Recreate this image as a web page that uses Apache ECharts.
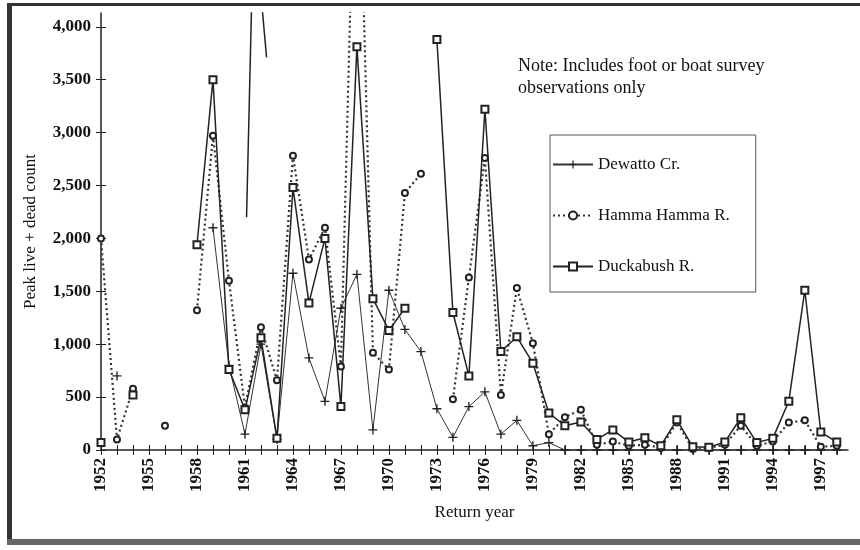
<!DOCTYPE html>
<html>
<head>
<meta charset="utf-8">
<script src="https://cdn.jsdelivr.net/npm/echarts@6/dist/echarts.min.js"></script>
<style>
html, body { margin: 0; background: #fff; }
#chart { width: 860px; height: 550px; }
</style>
</head>
<body>
<div id="chart"></div>
<script>
// return years and the count of each river (null = no survey that year)
const years = [1952, 1953, 1954, 1955, 1956, 1957, 1958, 1959, 1960, 1961,
    1962, 1963, 1964, 1965, 1966, 1967, 1968, 1969, 1970, 1971,
    1972, 1973, 1974, 1975, 1976, 1977, 1978, 1979, 1980, 1981,
    1982, 1983, 1984, 1985, 1986, 1987, 1988, 1989, 1990, 1991,
    1992, 1993, 1994, 1995, 1996, 1997, 1998];
const labelYears = [1952, 1955, 1958, 1961, 1964, 1967, 1970, 1973, 1976, 1979, 1982, 1985, 1988, 1991, 1994, 1997];
const yTicks = [0, 500, 1000, 1500, 2000, 2500, 3000, 3500, 4000];

const dewatto = [null, 700, null, null, null, null, null, 2100, 800, 150,
    1000, 100, 1670, 870, 460, 1340, 1660, 190, 1510, 1140,
    930, 390, 120, 410, 550, 150, 280, 40, 70, 0,
    0, 0, 0, 0, 0, 0, 0, 0, 0, 0,
    0, 0, 0, 0, 0, 0, 0];
const hamma = [2000, 100, 580, null, 230, null, 1320, 2970, 1600, 400,
    1160, 660, 2780, 1800, 2100, 790, 6600, 920, 760, 2430,
    2610, null, 480, 1630, 2760, 520, 1530, 1010, 150, 310,
    380, 50, 80, 40, 50, 20, 260, 10, 20, 50,
    230, 40, 80, 260, 280, 30, 40];
const duckabush = [70, null, 520, null, null, null, 1940, 3500, 760, 380,
    1060, 110, 2480, 1390, 2000, 410, 3810, 1430, 1130, 1340,
    null, 3880, 1300, 700, 3220, 930, 1070, 820, 350, 230,
    265, 100, 190, 75, 115, 40, 285, 30, 25, 75,
    305, 70, 110, 460, 1510, 170, 75];
// unlabelled trace left over on the original scan
const strayTrace = [[1961.1, 2200], [1961.55, 5070], [1962.35, 3710]];

const noteText = 'Note: Includes foot or boat survey\nobservations only';

const serif = '"Liberation Serif", "DejaVu Serif", serif';
const ink = '#222';
const plusPath = 'path://M3.4,0H4.6V3.4H8V4.6H4.6V8H3.4V4.6H0V3.4H3.4Z';

function pairs(arr) {
    return years.map((y, i) => [y, arr[i] == null ? '-' : arr[i]]);
}

const chart = echarts.init(document.getElementById('chart'));

function xAx(inside) {
    return {
        type: 'value', min: 1952, max: 1998.7, position: 'bottom',
        axisLine: { show: !inside, lineStyle: { color: ink, width: 1.5 } },
        axisTick: { customValues: years, inside: inside, length: 5, lineStyle: { color: ink } },
        axisLabel: {
            show: !inside, customValues: labelYears, rotate: 90, margin: 8,
            fontFamily: serif, fontSize: 17, fontWeight: 'bold', color: '#111',
            formatter: v => String(v)
        },
        splitLine: { show: false },
        name: inside ? '' : 'Return year', nameLocation: 'middle', nameGap: 54,
        nameTextStyle: { fontFamily: serif, fontSize: 17, color: '#111' }
    };
}
function yAx(inside) {
    return {
        type: 'value', min: 0, max: 4130, position: 'left',
        axisLine: { show: !inside, lineStyle: { color: ink, width: 1.5 } },
        axisTick: { customValues: yTicks, inside: inside, length: 5, lineStyle: { color: ink } },
        axisLabel: {
            show: !inside, customValues: yTicks, margin: 10,
            fontFamily: serif, fontSize: 17, fontWeight: 'bold', color: '#111',
            formatter: v => v.toLocaleString('en-US')
        },
        splitLine: { show: false },
        name: inside ? '' : 'Peak live + dead count', nameLocation: 'middle', nameGap: 62,
        nameTextStyle: { fontFamily: serif, fontSize: 17, color: '#111' }
    };
}

const option = {
    backgroundColor: '#fff',
    animation: false,
    grid: { left: 101, right: 12, top: 13, bottom: 100, outerBoundsMode: 'none' },
    xAxis: [xAx(false), xAx(true)],
    yAxis: [yAx(false), yAx(true)],
    legend: {
        data: ['Dewatto Cr.', 'Hamma Hamma R.', 'Duckabush R.'],
        orient: 'vertical', left: 550, top: 135,
        padding: [21, 26, 17, 2],
        itemGap: 34, itemWidth: 40, itemHeight: 10,
        borderColor: '#555', borderWidth: 1,
        textStyle: { fontFamily: serif, fontSize: 17, color: '#111' }
    },
    graphic: [
        { type: 'rect', shape: { x: 7, y: 3, width: 5, height: 542 }, style: { fill: '#333' } },
        { type: 'rect', shape: { x: 7, y: 3, width: 853, height: 3 }, style: { fill: '#333' } },
        { type: 'rect', shape: { x: 7, y: 539, width: 853, height: 6 }, style: { fill: '#666' } },
        {
            type: 'text', x: 518, y: 55,
            style: { text: noteText, font: '18px ' + serif, fill: '#111', lineHeight: 22 }
        }
    ],
    series: [
        {
            name: 'Dewatto Cr.', type: 'line', data: pairs(dewatto),
            symbol: plusPath, symbolSize: 9,
            lineStyle: { color: '#333', width: 1 },
            itemStyle: { color: ink }
        },
        {
            name: 'Hamma Hamma R.', type: 'line', data: pairs(hamma),
            symbol: 'emptyCircle', symbolSize: 6,
            lineStyle: { color: '#333', width: 2.2, type: [2, 3] },
            itemStyle: { color: ink, borderWidth: 1.5 }
        },
        {
            name: 'Duckabush R.', type: 'line', data: pairs(duckabush),
            symbol: 'emptyRect', symbolSize: 7,
            lineStyle: { color: ink, width: 1.5 },
            itemStyle: { color: ink, borderWidth: 1.5 }
        },
        {
            type: 'line', data: strayTrace, symbol: 'none', silent: true,
            lineStyle: { color: ink, width: 1.5 }
        }
    ]
};
chart.setOption(option);
</script>
</body>
</html>
